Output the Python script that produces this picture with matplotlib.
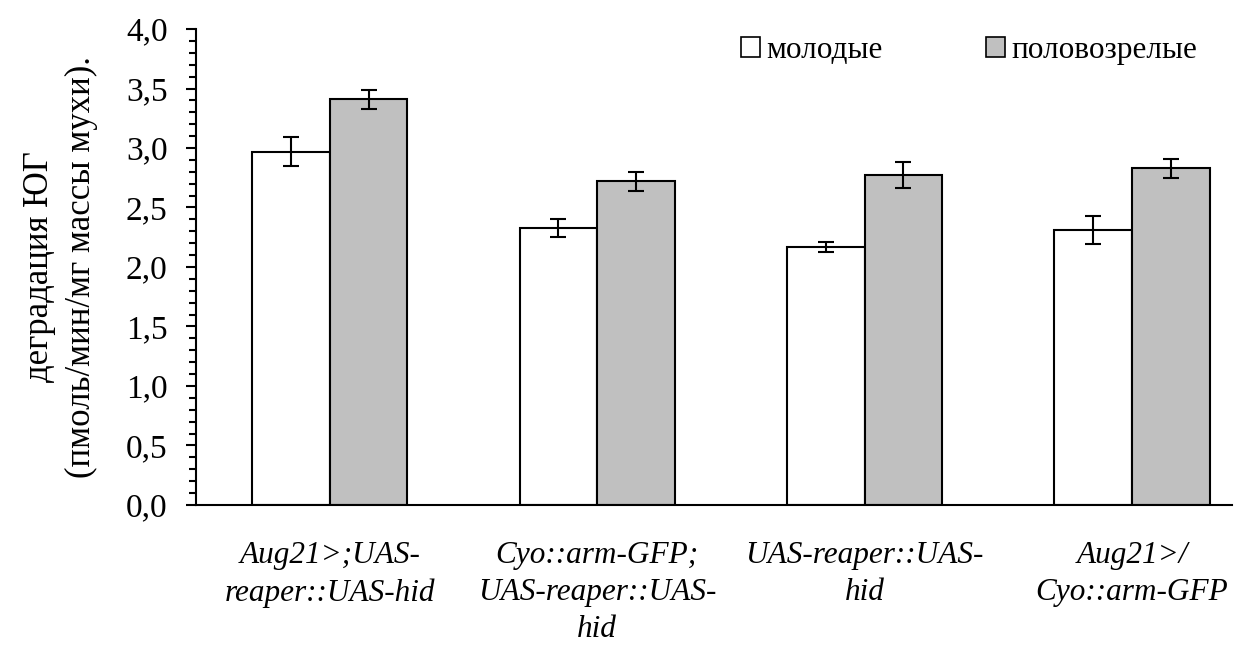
import matplotlib
matplotlib.use("Agg")
import matplotlib.pyplot as plt
from matplotlib.ticker import MultipleLocator, FuncFormatter
from matplotlib.patches import Patch
import numpy as np

plt.rcParams['font.family'] = ['Liberation Serif', 'DejaVu Serif']

categories = ["Aug21>;UAS-\nreaper::UAS-hid",
              "Cyo::arm-GFP;\nUAS-reaper::UAS-\nhid",
              "UAS-reaper::UAS-\nhid",
              "Aug21>/\nCyo::arm-GFP"]
series_names = ["молодые", "половозрелые"]
young = [2.97, 2.33, 2.17, 2.31]
young_err = [0.12, 0.075, 0.04, 0.12]
mature = [3.41, 2.72, 2.77, 2.83]
mature_err = [0.08, 0.08, 0.11, 0.08]

fig = plt.figure(figsize=(12.55, 6.46), dpi=100)
ax = fig.add_axes([0.1562, 0.2183, 0.8255, 0.7368])

x = np.arange(len(categories))
w = 0.29
err_kw = dict(ecolor="black", elinewidth=1.5, capsize=6, capthick=1.5)
ax.bar(x - w / 2, young, w, yerr=young_err, color="white", edgecolor="black",
       linewidth=1.5, error_kw=err_kw, zorder=2)
ax.bar(x + w / 2, mature, w, yerr=mature_err, color="#c0c0c0", edgecolor="black",
       linewidth=1.5, error_kw=err_kw, zorder=2)

ax.set_xlim(-0.5, 3.374)
ax.set_ylim(0, 4.0)
ax.yaxis.set_major_locator(MultipleLocator(0.5))
ax.yaxis.set_minor_locator(MultipleLocator(0.1))
ax.yaxis.set_major_formatter(FuncFormatter(lambda v, p: f"{v:.1f}".replace(".", ",")))

for s in ["top", "right"]:
    ax.spines[s].set_visible(False)
for s in ["left", "bottom"]:
    ax.spines[s].set_linewidth(1.5)

ax.tick_params(axis="y", which="major", direction="out", length=7.5, width=1.5,
               labelsize=24, pad=13)
ax.tick_params(axis="y", which="minor", direction="out", length=5, width=1.5)
ax.set_xticks(x)
ax.set_xticklabels(categories, fontsize=22.5, style="italic", linespacing=1.37)
ax.tick_params(axis="x", length=0, pad=26)

ax.set_ylabel("деградация ЮГ\n(пмоль/мин/мг массы мухи).", fontsize=25,
              linespacing=1.35, labelpad=20)

handles = [Patch(facecolor="white", edgecolor="black", linewidth=1.2),
           Patch(facecolor="#c0c0c0", edgecolor="black", linewidth=1.2)]
ax.legend(handles, series_names, loc="center left", bbox_to_anchor=(0.526, 0.955),
          ncol=2, frameon=False, fontsize=22.5, handlelength=0.6, handleheight=0.6,
          handletextpad=0.22, columnspacing=3.3, borderaxespad=0, borderpad=0)

fig.savefig("out.png", dpi=100, facecolor="white")
